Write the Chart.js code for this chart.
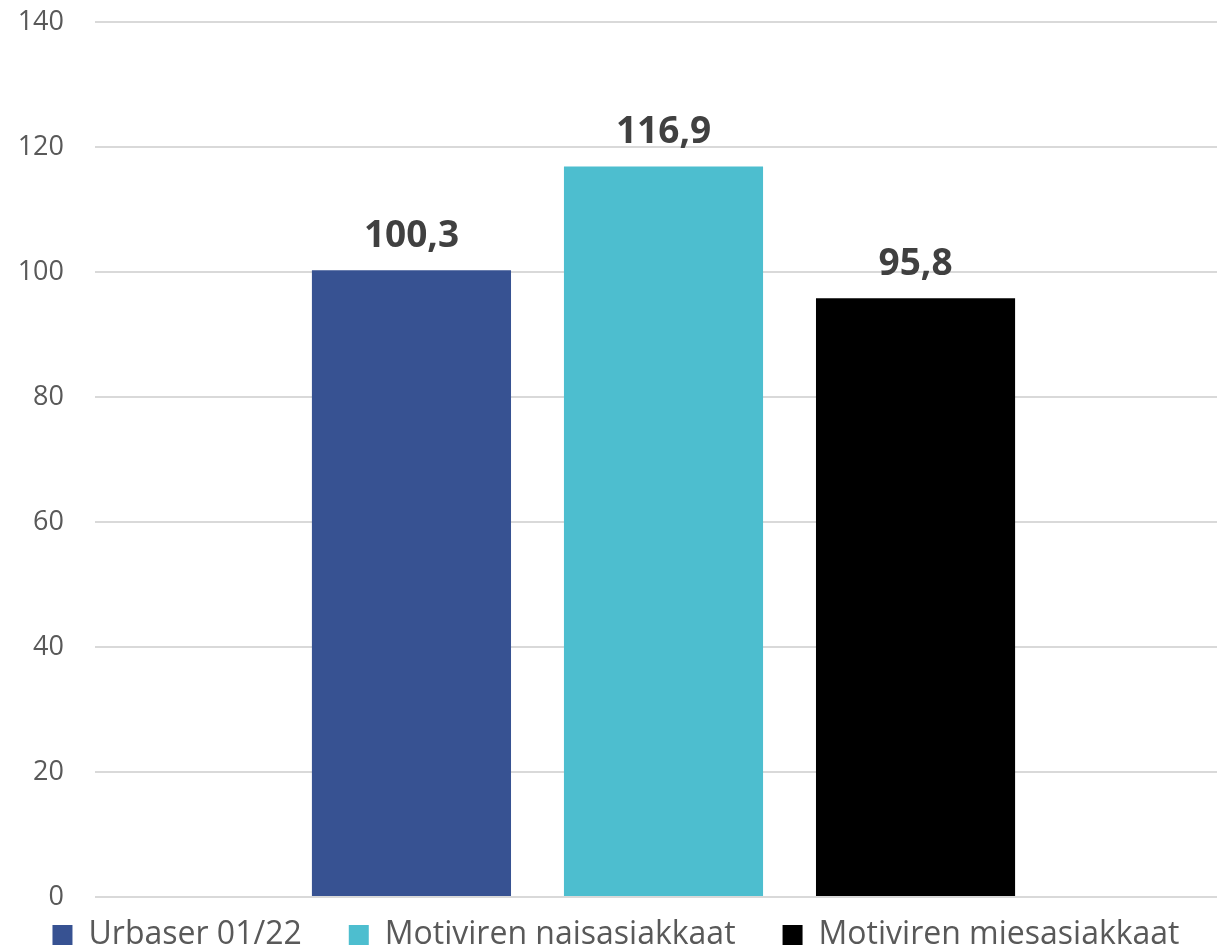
<!DOCTYPE html>
<html>
<head>
<meta charset="utf-8">
<script src="https://cdn.jsdelivr.net/npm/chart.js@4.4.1/dist/chart.umd.min.js"></script>
<style>
  html, body { margin: 0; padding: 0; background: #fff; overflow: hidden; }
  #wrap { position: relative; width: 1232px; height: 949px; }
</style>
</head>
<body>
<div id="wrap"><canvas id="c"></canvas></div>
<script>
const categories = [''];
const seriesNames = ['Urbaser 01/22', 'Motiviren naisasiakkaat', 'Motiviren miesasiakkaat'];
const urbaser = [100.3];
const naisasiakkaat = [116.9];
const miesasiakkaat = [95.8];
const seriesColors = ['#375292', '#4DBECF', '#000000'];
const yTicks = [0, 20, 40, 60, 80, 100, 120, 140];

const FONT = "'Open Sans', 'Noto Sans', sans-serif";
const LEGEND_FONT = 32;
const LEGEND_PAD = 47;

const valueLabels = {
  id: 'valueLabels',
  afterDatasetsDraw(chart) {
    const ctx = chart.ctx;
    ctx.save();
    ctx.font = "bold 37px " + FONT;
    ctx.fillStyle = '#404040';
    ctx.textAlign = 'center';
    ctx.textBaseline = 'alphabetic';
    chart.data.datasets.forEach((ds, i) => {
      const meta = chart.getDatasetMeta(i);
      meta.data.forEach((bar, j) => {
        const v = ds.data[j];
        ctx.fillText(v.toFixed(1).replace('.', ','), bar.x, bar.y - 23);
      });
    });
    ctx.restore();
  }
};

const legendTweak = {
  id: 'legendTweak',
  beforeUpdate(chart) {
    const lg = chart.legend;
    if (lg && !lg._tweaked) {
      const orig = lg.fit;
      lg.fit = function () { orig.call(this); this.height = 52; };
      lg._tweaked = true;
    }
  },
  afterLayout(chart) {
    const lg = chart.legend;
    if (lg) {
      lg.top = chart.chartArea.bottom + 38 - LEGEND_FONT / 2 - LEGEND_PAD;
      lg.bottom = chart.height;
      lg.height = lg.bottom - lg.top;
    }
  }
};

new Chart(document.getElementById('c'), {
  type: 'bar',
  data: {
    labels: categories,
    datasets: [
      { label: seriesNames[0], data: urbaser, backgroundColor: seriesColors[0] },
      { label: seriesNames[1], data: naisasiakkaat, backgroundColor: seriesColors[1] },
      { label: seriesNames[2], data: miesasiakkaat, backgroundColor: seriesColors[2] }
    ]
  },
  options: {
    responsive: true,
    maintainAspectRatio: false,
    animation: false,
    layout: { padding: { top: 22, left: 0, right: 0, bottom: 0 } },
    datasets: { bar: { categoryPercentage: 0.665, barPercentage: 0.79 } },
    scales: {
      x: { display: false },
      y: {
        min: 0, max: 140,
        afterBuildTicks(scale) { scale.ticks = yTicks.map(v => ({ value: v })); },
        afterFit(scale) { scale.width = 95; scale.paddingTop = 0; scale.paddingBottom = 0; },
        border: { display: false },
        grid: { color: '#d9d9d9', lineWidth: 2, drawTicks: false },
        ticks: { font: { family: FONT, size: 27 }, color: '#595959', padding: 31 }
      }
    },
    plugins: {
      legend: {
        position: 'bottom',
        labels: {
          boxWidth: 20, boxHeight: 20, padding: LEGEND_PAD,
          font: { family: FONT, size: LEGEND_FONT }, color: '#595959'
        }
      },
      tooltip: { enabled: false }
    }
  },
  plugins: [valueLabels, legendTweak]
});
</script>
</body>
</html>
